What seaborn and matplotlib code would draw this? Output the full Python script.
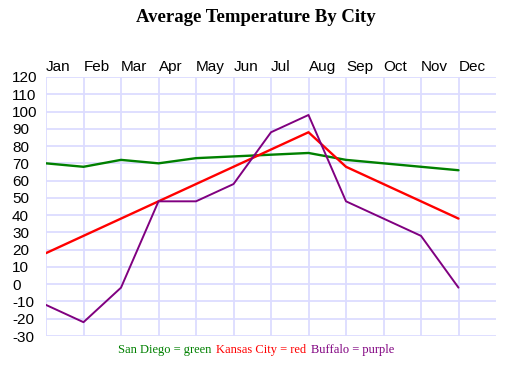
import matplotlib
matplotlib.use("Agg")
import matplotlib.pyplot as plt
import seaborn as sns
import pandas as pd

months = ["Jan", "Feb", "Mar", "Apr", "May", "Jun", "Jul", "Aug", "Sep", "Oct", "Nov", "Dec"]
san_diego = [70, 68, 72, 70, 73, 74, 75, 76, 72, 70, 68, 66]
kansas_city = [18, 28, 38, 48, 58, 68, 78, 88, 68, 58, 48, 38]
buffalo = [-12, -22, -2, 48, 48, 58, 88, 98, 48, 38, 28, -2]
y_ticks = list(range(-30, 121, 10))

cities = ["San Diego", "Kansas City", "Buffalo"]
colors = {"San Diego": "green", "Kansas City": "red", "Buffalo": "purple"}
widths = {"San Diego": 1.7, "Kansas City": 1.7, "Buffalo": 1.4}

rows = []
for city, vals in zip(cities, [san_diego, kansas_city, buffalo]):
    for i, v in enumerate(vals):
        rows.append({"city": city, "month": i, "temp": v})
df = pd.DataFrame(rows)

sns.set_style("white")
plt.rcParams["text.color"] = "black"
plt.rcParams["xtick.color"] = "black"
plt.rcParams["ytick.color"] = "black"
fig = plt.figure(figsize=(5.12, 3.65), dpi=100)
ax = fig.add_axes([46 / 512, 29 / 365, 450 / 512, 259 / 365])

for x in range(12):
    ax.axvline(x, color="#dcdcff", lw=1.3, zorder=0)
for y in y_ticks:
    ax.axhline(y, color="#dcdcff", lw=1.3, zorder=0)

for city in cities:
    sns.lineplot(data=df[df.city == city], x="month", y="temp", color=colors[city],
                 lw=widths[city], ax=ax, legend=False)

ax.set_xlim(0, 12)
ax.set_ylim(-30, 120)
for s in ax.spines.values():
    s.set_visible(False)
ax.set_xlabel("")
ax.set_ylabel("")

ax.set_xticks(range(12))
ax.set_xticklabels(months, fontfamily="Liberation Sans", fontsize=11, ha="left", color="black")
ax.xaxis.tick_top()
ax.tick_params(axis="x", length=0, pad=2)

ax.set_yticks(y_ticks)
ax.set_yticklabels([str(v) for v in y_ticks], fontfamily="Liberation Sans", fontsize=11,
                   ha="left", color="black")
ax.tick_params(axis="y", length=0, pad=24.5)

fig.text(0.5, 1 - 18 / 365, "Average Temperature By City", ha="center", va="center",
         fontfamily="Liberation Serif", fontweight="bold", fontsize=13.5, color="black")

legend_items = [("San Diego = green", "green", 118), ("Kansas City = red", "red", 216),
                ("Buffalo = purple", "purple", 311)]
for text, c, xpx in legend_items:
    fig.text(xpx / 512, 1 - 350 / 365, text, ha="left", va="center", color=c,
             fontfamily="Liberation Serif", fontsize=9)

fig.savefig("out.png", dpi=100)
